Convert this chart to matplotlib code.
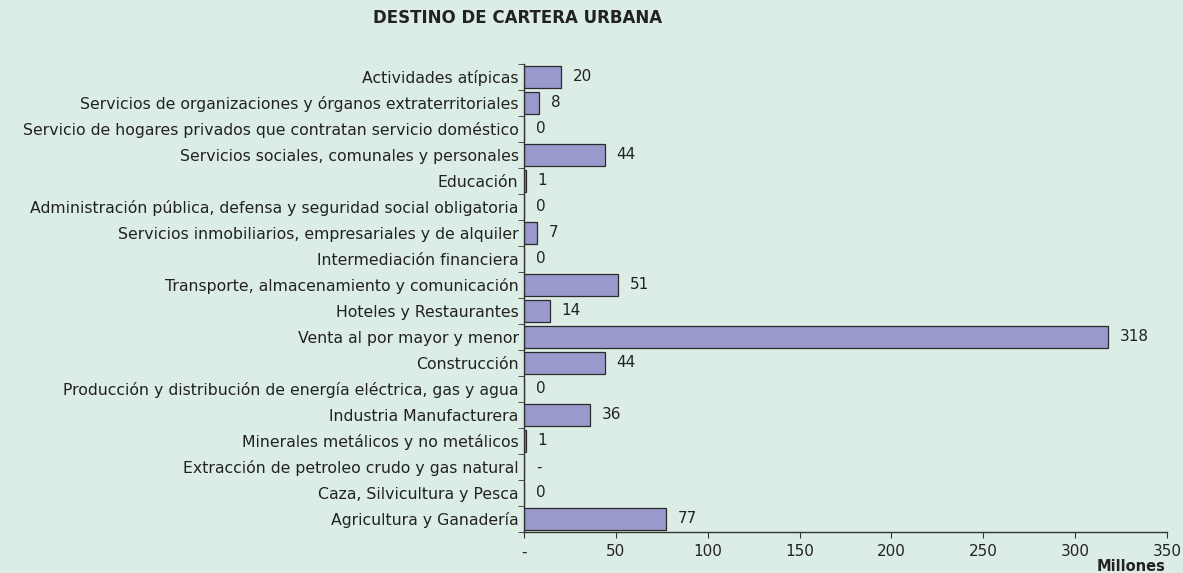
import matplotlib.pyplot as plt
import numpy as np
from matplotlib.ticker import FixedLocator, FuncFormatter

plt.rcParams["font.family"] = ["DejaVu Sans"]

# datos (de abajo hacia arriba)
sectores = [
    "Agricultura y Ganadería",
    "Caza, Silvicultura y Pesca",
    "Extracción de petroleo crudo y gas natural",
    "Minerales metálicos y no metálicos",
    "Industria Manufacturera",
    "Producción y distribución de energía eléctrica, gas y agua",
    "Construcción",
    "Venta al por mayor y menor",
    "Hoteles y Restaurantes",
    "Transporte, almacenamiento y comunicación",
    "Intermediación financiera",
    "Servicios inmobiliarios, empresariales y de alquiler",
    "Administración pública, defensa y seguridad social obligatoria",
    "Educación",
    "Servicios sociales, comunales y personales",
    "Servicio de hogares privados que contratan servicio doméstico",
    "Servicios de organizaciones y órganos extraterritoriales",
    "Actividades atípicas",
]
valores = [77, 0, 0, 1, 36, 0, 44, 318, 14, 51, 0, 7, 0, 1, 44, 0, 8, 20]
etiquetas = ["77", "0", "-", "1", "36", "0", "44", "318", "14", "51", "0", "7",
             "0", "1", "44", "0", "8", "20"]

bg = "#dcede5"
fig = plt.figure(figsize=(11.83, 5.73), dpi=100, facecolor=bg)
ax = fig.add_axes([0.443, 0.0716, 0.5435, 0.8168], facecolor=bg)

y = np.arange(len(sectores))
ax.barh(y, valores, height=0.82, color="#9999cc", edgecolor="#2a2a2a", linewidth=0.9)

# etiquetas de valor
for yi, v, t in zip(y, valores, etiquetas):
    ax.annotate(t, (v, yi), xytext=(8.5, 0), textcoords="offset points",
                va="center", ha="left", fontsize=11, color="#222222")

ax.set_xlim(0, 350)
ax.set_ylim(-0.5, len(sectores) - 0.5)
ax.set_xticks(range(0, 351, 50))
ax.xaxis.set_major_formatter(FuncFormatter(lambda v, p: "-" if v == 0 else f"{int(v)}"))
ax.set_yticks(y)
ax.set_yticklabels(sectores)
ax.yaxis.set_minor_locator(FixedLocator(np.arange(-0.5, len(sectores), 1)))
ax.tick_params(axis="y", which="major", length=0, pad=4, labelsize=11.3, labelcolor="#222222")
ax.tick_params(axis="y", which="minor", length=4, direction="out", color="#333333")
ax.tick_params(axis="x", length=4, direction="out", pad=5, labelsize=11,
               labelcolor="#222222", color="#333333")

for s in ["top", "right"]:
    ax.spines[s].set_visible(False)
for s in ["left", "bottom"]:
    ax.spines[s].set_color("#333333")
    ax.spines[s].set_linewidth(1.0)

fig.text(0.4375, 0.968, "DESTINO DE CARTERA URBANA", ha="center", va="center",
         fontsize=12, fontweight="bold", color="#222222")
fig.text(0.985, 0.012, "Millones", ha="right", va="center", fontsize=10.5,
         fontweight="bold", color="#222222")

fig.savefig("out.png", dpi=100, facecolor=bg)
